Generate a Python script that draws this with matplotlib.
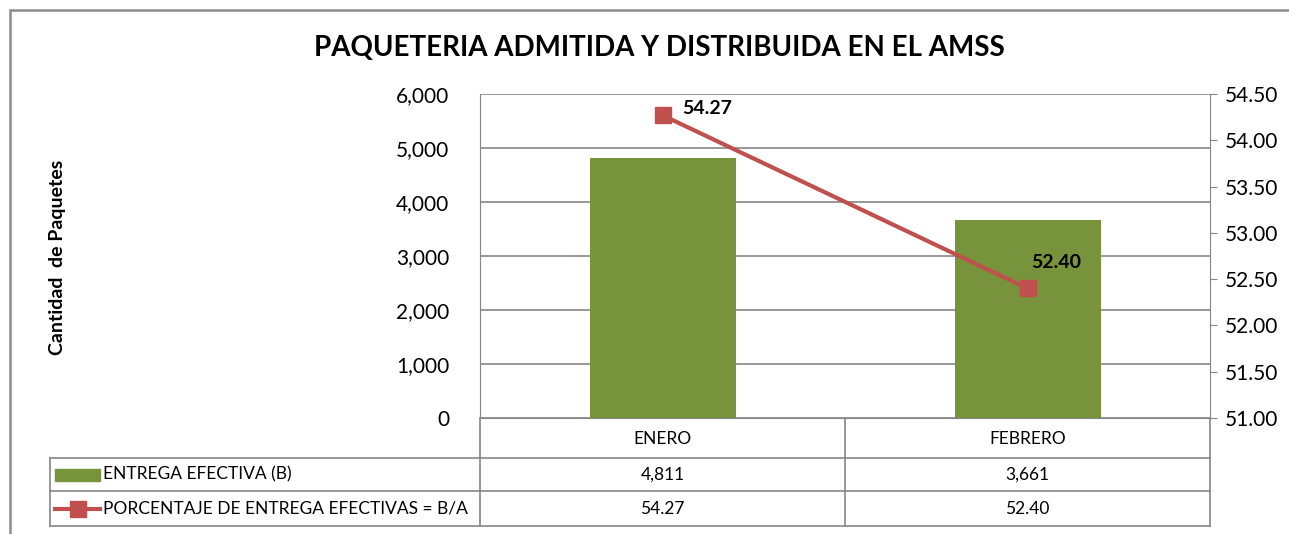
import matplotlib.pyplot as plt
from matplotlib.patches import Rectangle
from matplotlib.lines import Line2D

# datos del periodo
meses = ["ENERO", "FEBRERO"]
entrega_efectiva = [4811, 3661]
porcentaje_entrega = [54.27, 52.40]
serie_barras = "ENTREGA EFECTIVA (B)"
serie_linea = "PORCENTAJE DE ENTREGA EFECTIVAS = B/A"

verde = "#77933C"
rojo = "#C0504D"
gris = "#868686"

plt.rcParams["font.family"] = ["Lato", "DejaVu Sans"]

fig = plt.figure(figsize=(12.89, 5.34), dpi=100)
W, H = 1289, 534

# marco exterior del grafico (sigue mas alla del borde derecho e inferior)
fig.patches.append(Rectangle((10 / W, -0.05), 1.2, 1.05 - 10 / H,
                             transform=fig.transFigure, fill=False,
                             edgecolor="#8C8C8C", linewidth=1.8))

left, right, top, bottom = 480, 1210, 94, 418
ax = fig.add_axes([left / W, 1 - bottom / H, (right - left) / W, (bottom - top) / H])

x = list(range(len(meses)))
ax.bar(x, entrega_efectiva, width=0.4, color=verde, zorder=2)
ax.set_xlim(-0.5, len(meses) - 0.5)
ax.set_ylim(0, 6000)
ax.set_yticks(range(0, 6001, 1000))
ax.set_yticklabels([f"{v:,}" for v in range(0, 6001, 1000)], fontsize=15)
ax.yaxis.grid(True, color=gris, linewidth=1.2, zorder=0)
ax.set_xticks([])
for s in ["top", "right"]:
    ax.spines[s].set_visible(False)
ax.spines["left"].set_color(gris)
ax.spines["bottom"].set_color(gris)
ax.tick_params(axis="y", length=0, pad=22)

ax2 = ax.twinx()
ax2.plot(x, porcentaje_entrega, color=rojo, linewidth=3, marker="s",
         markersize=11, zorder=3)
ax2.set_ylim(51, 54.5)
ticks2 = [51 + 0.5 * i for i in range(8)]
ax2.set_yticks(ticks2)
ax2.set_yticklabels([f"{t:.2f}" for t in ticks2], fontsize=15)
for s in ["top", "left", "bottom"]:
    ax2.spines[s].set_visible(False)
ax2.spines["right"].set_color(gris)
ax2.tick_params(axis="y", length=5, color=gris, pad=6)

# etiquetas de datos
ax2.annotate(f"{porcentaje_entrega[0]:.2f}", (x[0], porcentaje_entrega[0]),
             xytext=(14, 5), textcoords="offset points", fontsize=14,
             fontweight="bold", ha="left", va="center")
ax2.annotate(f"{porcentaje_entrega[1]:.2f}", (x[1], porcentaje_entrega[1]),
             xytext=(3, 19), textcoords="offset points", fontsize=14,
             fontweight="bold", ha="left", va="center")

fig.text(659 / W, 1 - 48 / H, "PAQUETERIA ADMITIDA Y DISTRIBUIDA EN EL AMSS",
         ha="center", va="center", fontsize=20, fontweight="bold")
fig.text(57 / W, 1 - 257 / H, "Cantidad  de Paquetes", rotation=90,
         ha="center", va="center", fontsize=14, fontweight="bold")

# tabla de datos bajo el eje
def fx(px):
    return px / W

def fy(py):
    return 1 - py / H

tabla_izq, filas = 50, [418, 458, 491, 526]
col_bordes = [left + (right - left) * i / len(meses) for i in range(len(meses) + 1)]
lw = 1.2
lines = []
for yb in filas[1:]:
    lines.append(([tabla_izq, right], [yb, yb]))
lines.append(([tabla_izq, tabla_izq], [filas[1], filas[3]]))
for cb in col_bordes:
    lines.append(([cb, cb], [filas[0], filas[3]]))
for xs, ys in lines:
    fig.add_artist(Line2D([fx(v) for v in xs], [fy(v) for v in ys],
                          color=gris, linewidth=lw))

for i, mes in enumerate(meses):
    cx = (col_bordes[i] + col_bordes[i + 1]) / 2
    fig.text(fx(cx), fy((filas[0] + filas[1]) / 2 + 1), mes,
             ha="center", va="center", fontsize=12.5)
    fig.text(fx(cx), fy((filas[1] + filas[2]) / 2), f"{entrega_efectiva[i]:,}",
             ha="center", va="center", fontsize=12.5)
    fig.text(fx(cx), fy((filas[2] + filas[3]) / 2), f"{porcentaje_entrega[i]:.2f}",
             ha="center", va="center", fontsize=12.5)

# claves de leyenda dentro de la tabla
yb1 = (filas[1] + filas[2]) / 2
fig.patches.append(Rectangle((fx(55), fy(yb1 + 6)), 45 / W, 12 / H,
                             transform=fig.transFigure, color=verde))
fig.text(fx(103), fy(yb1), serie_barras, ha="left", va="center", fontsize=12.5)
yb2 = (filas[2] + filas[3]) / 2
fig.add_artist(Line2D([fx(55), fx(100)], [fy(yb2), fy(yb2)], color=rojo,
                      linewidth=3))
fig.add_artist(Line2D([fx(77.5)], [fy(yb2)], color=rojo, marker="s",
                      markersize=11, linestyle="none"))
fig.text(fx(103), fy(yb2), serie_linea, ha="left", va="center", fontsize=12.5)

fig.savefig("out.png", dpi=100)
